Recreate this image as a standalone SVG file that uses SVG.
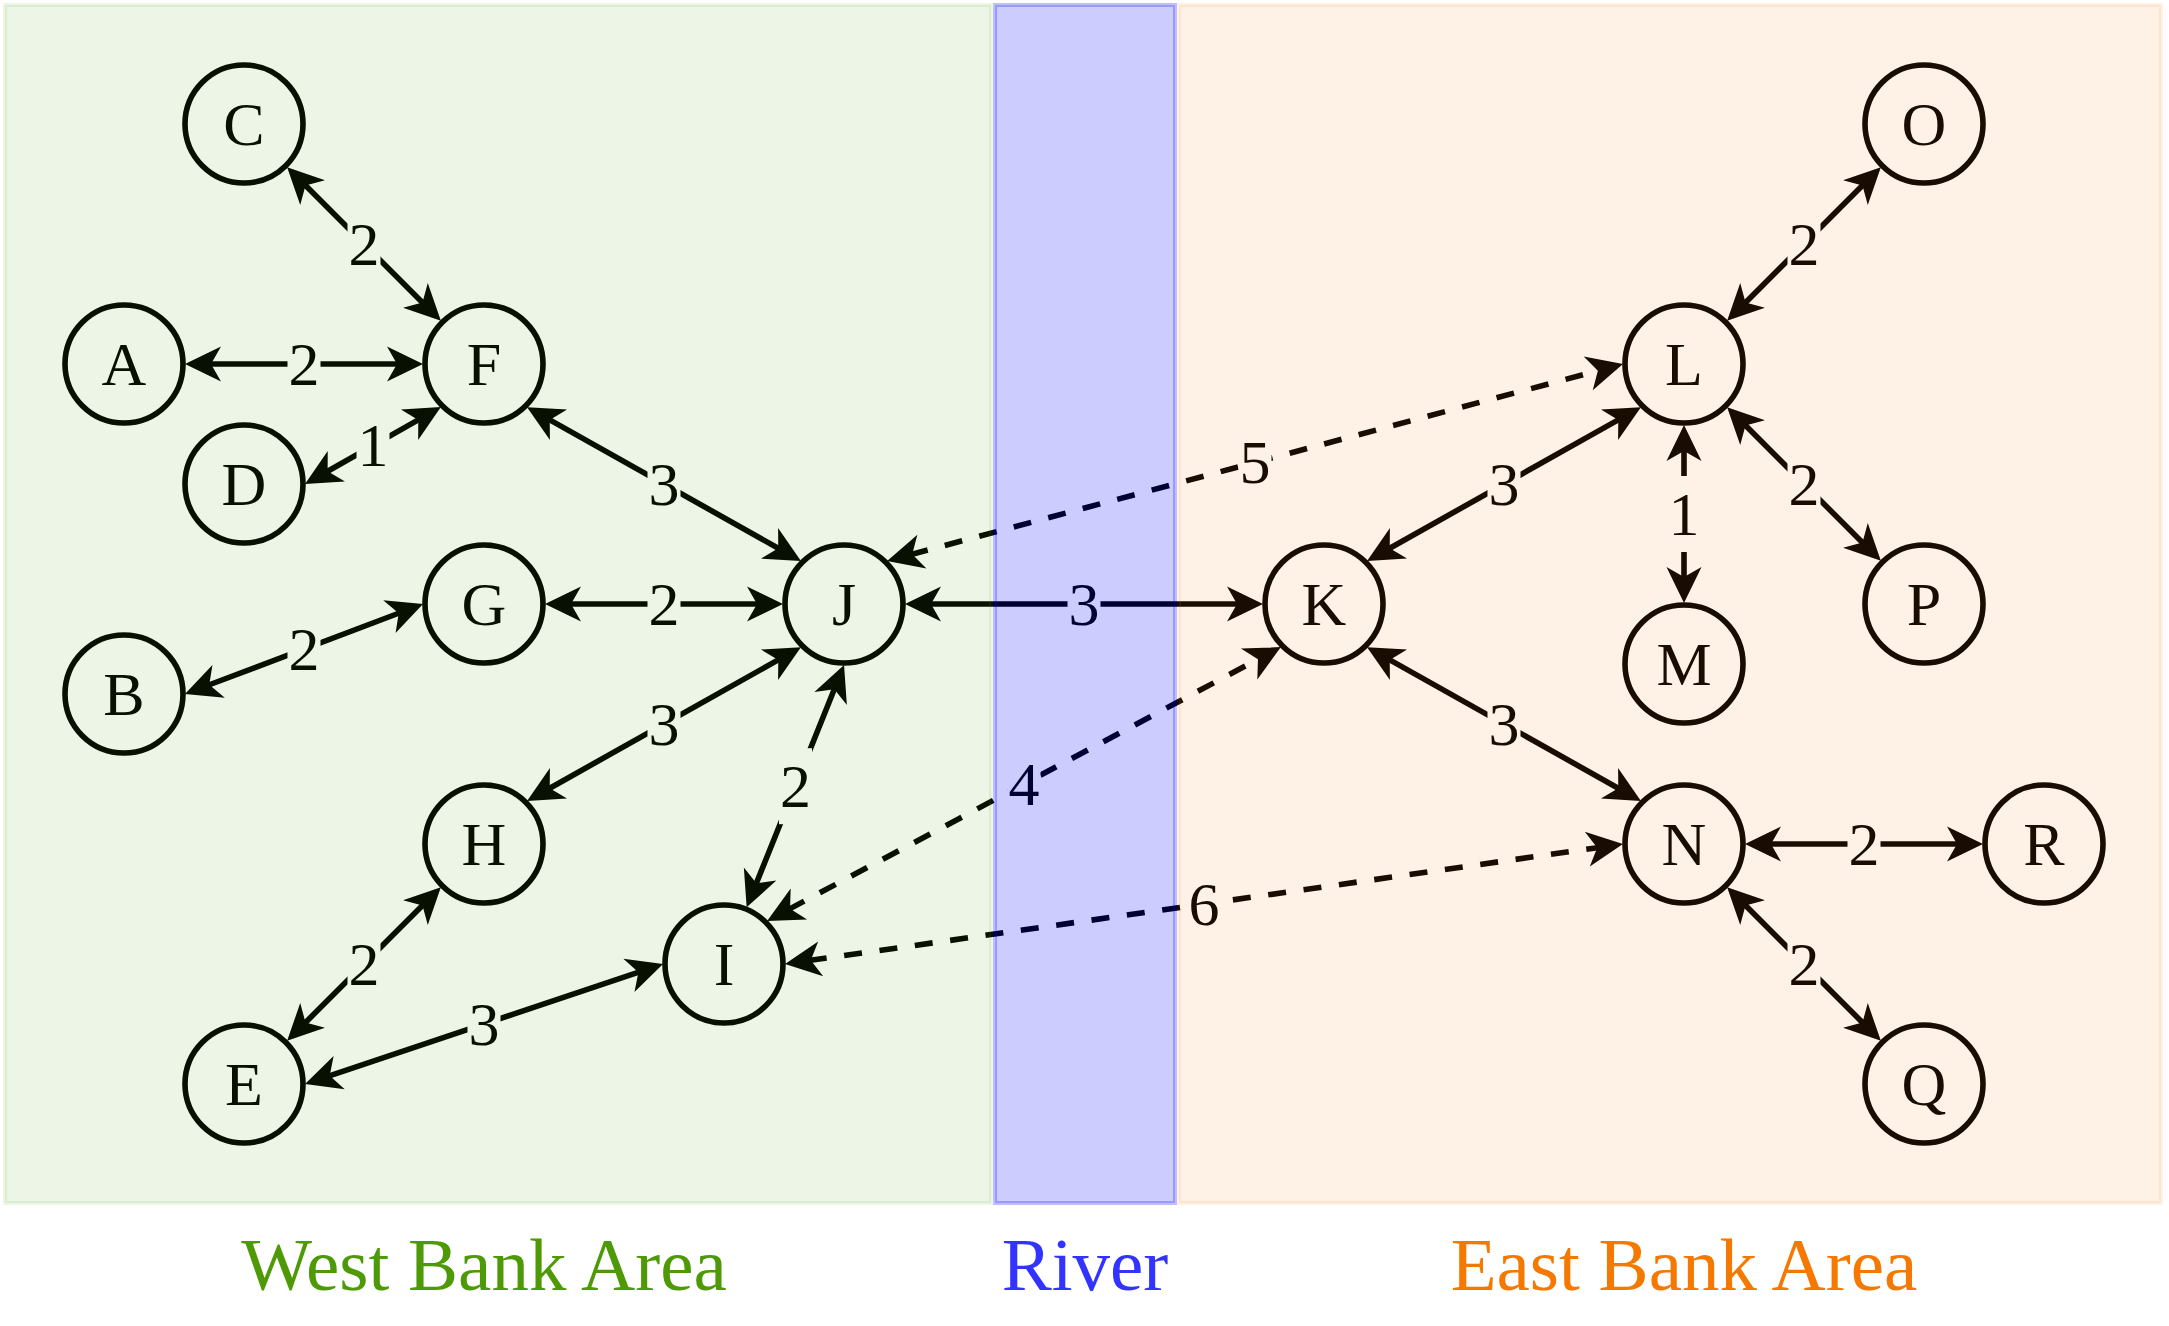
<svg xmlns="http://www.w3.org/2000/svg" width="2169" height="1326" viewBox="0 0 2169 1326">
<defs>
<style>
.edge{stroke:#000;stroke-width:5.6;fill:none;marker-start:url(#arr);marker-end:url(#arr)}
.dash{stroke-dasharray:18 17.7}
.lbg{fill:#fff;stroke:none}
.lbl{font-family:"Liberation Serif","Times New Roman",serif;font-size:62px;fill:#000;text-anchor:middle}
.node circle{fill:none;stroke:#000;stroke-width:5.6}
.node text{font-family:"Liberation Serif","Times New Roman",serif;font-size:62px;fill:#000;text-anchor:middle}
.area{font-family:"Liberation Serif","Times New Roman",serif;font-size:75px;text-anchor:middle}
</style>
<marker id="arr" markerUnits="userSpaceOnUse" orient="auto-start-reverse" refX="0" refY="0" markerWidth="80" markerHeight="80" viewBox="-40 -40 80 80" overflow="visible">
<path d="M24,0 L-12,-17.5 L-2,0 L-12,17.5 Z" fill="#000"/>
</marker>
</defs>
<rect x="0" y="0" width="2169" height="1326" fill="#fff"/>
<g id="connectors">
<line class="edge" x1="304.1" y1="184.1" x2="423.9" y2="303.9"/>
<line class="edge" x1="209" y1="364" x2="399" y2="364"/>
<line class="edge" x1="325.9" y1="472.2" x2="420" y2="418.9"/>
<line class="edge" x1="548" y1="418.9" x2="780" y2="549.2"/>
<line class="edge" x1="569" y1="604" x2="759" y2="604"/>
<line class="edge" x1="207.4" y1="685.5" x2="400.6" y2="612.5"/>
<line class="edge" x1="548" y1="789.2" x2="780" y2="658.9"/>
<line class="edge" x1="755.6" y1="885.1" x2="835.1" y2="687.3"/>
<line class="edge" x1="304.1" y1="1023.9" x2="423.9" y2="904.1"/>
<line class="edge" x1="327.8" y1="1076.4" x2="640.3" y2="971.6"/>
<line class="edge" x1="929" y1="604" x2="1239" y2="604"/>
<line class="edge dash" x1="910.3" y1="554.7" x2="1599.8" y2="370.2"/>
<line class="edge dash" x1="788.3" y1="909.6" x2="1259.7" y2="658.4"/>
<line class="edge dash" x1="808.8" y1="960.6" x2="1599.2" y2="847.4"/>
<line class="edge" x1="1388" y1="549.2" x2="1620" y2="418.9"/>
<line class="edge" x1="1744.1" y1="303.9" x2="1863.9" y2="184.1"/>
<line class="edge" x1="1684" y1="449" x2="1684" y2="579"/>
<line class="edge" x1="1744.1" y1="424.1" x2="1863.9" y2="543.9"/>
<line class="edge" x1="1388" y1="658.9" x2="1620" y2="789.2"/>
<line class="edge" x1="1769" y1="844" x2="1959" y2="844"/>
<line class="edge" x1="1744.1" y1="904.1" x2="1863.9" y2="1023.9"/>
<g id="edge-labels">
<rect class="lbg" x="347.5" y="206" width="33" height="76"/><text class="lbl" x="364" y="264.5">2</text>
<rect class="lbg" x="287.5" y="326" width="33" height="76"/><text class="lbl" x="304" y="384.5">2</text>
<rect class="lbg" x="356.5" y="407.5" width="33" height="76"/><text class="lbl" x="373" y="466">1</text>
<rect class="lbg" x="647.5" y="446" width="33" height="76"/><text class="lbl" x="664" y="504.5">3</text>
<rect class="lbg" x="647.5" y="566" width="33" height="76"/><text class="lbl" x="664" y="624.5">2</text>
<rect class="lbg" x="287.5" y="611" width="33" height="76"/><text class="lbl" x="304" y="669.5">2</text>
<rect class="lbg" x="647.5" y="686" width="33" height="76"/><text class="lbl" x="664" y="744.5">3</text>
<rect class="lbg" x="779" y="748.2" width="33" height="76"/><text class="lbl" x="795.5" y="806.7">2</text>
<rect class="lbg" x="347.5" y="926" width="33" height="76"/><text class="lbl" x="364" y="984.5">2</text>
<rect class="lbg" x="467.5" y="986" width="33" height="76"/><text class="lbl" x="484" y="1044.5">3</text>
<rect class="lbg" x="1067.5" y="566" width="33" height="76"/><text class="lbl" x="1084" y="624.5">3</text>
<rect class="lbg" x="1238.5" y="424.4" width="33" height="76"/><text class="lbl" x="1255" y="482.9">5</text>
<rect class="lbg" x="1007.5" y="746" width="33" height="76"/><text class="lbl" x="1024" y="804.5">4</text>
<rect class="lbg" x="1187.5" y="866" width="33" height="76"/><text class="lbl" x="1204" y="924.5">6</text>
<rect class="lbg" x="1487.5" y="446" width="33" height="76"/><text class="lbl" x="1504" y="504.5">3</text>
<rect class="lbg" x="1787.5" y="206" width="33" height="76"/><text class="lbl" x="1804" y="264.5">2</text>
<rect class="lbg" x="1667.5" y="476" width="33" height="76"/><text class="lbl" x="1684" y="534.5">1</text>
<rect class="lbg" x="1787.5" y="446" width="33" height="76"/><text class="lbl" x="1804" y="504.5">2</text>
<rect class="lbg" x="1487.5" y="686" width="33" height="76"/><text class="lbl" x="1504" y="744.5">3</text>
<rect class="lbg" x="1847.5" y="806" width="33" height="76"/><text class="lbl" x="1864" y="864.5">2</text>
<rect class="lbg" x="1787.5" y="926" width="33" height="76"/><text class="lbl" x="1804" y="984.5">2</text>
</g>
</g>
<g id="node-A" class="node"><circle cx="124" cy="364" r="59"/><text x="124" y="384.5">A</text></g>
<g id="node-B" class="node"><circle cx="124" cy="694" r="59"/><text x="124" y="714.5">B</text></g>
<g id="node-C" class="node"><circle cx="244" cy="124" r="59"/><text x="244" y="144.5">C</text></g>
<g id="node-D" class="node"><circle cx="244" cy="484" r="59"/><text x="244" y="504.5">D</text></g>
<g id="node-E" class="node"><circle cx="244" cy="1084" r="59"/><text x="244" y="1104.5">E</text></g>
<g id="node-F" class="node"><circle cx="484" cy="364" r="59"/><text x="484" y="384.5">F</text></g>
<g id="node-G" class="node"><circle cx="484" cy="604" r="59"/><text x="484" y="624.5">G</text></g>
<g id="node-H" class="node"><circle cx="484" cy="844" r="59"/><text x="484" y="864.5">H</text></g>
<g id="node-I" class="node"><circle cx="724" cy="964" r="59"/><text x="724" y="984.5">I</text></g>
<g id="node-J" class="node"><circle cx="844" cy="604" r="59"/><text x="844" y="624.5">J</text></g>
<g id="node-K" class="node"><circle cx="1324" cy="604" r="59"/><text x="1324" y="624.5">K</text></g>
<g id="node-L" class="node"><circle cx="1684" cy="364" r="59"/><text x="1684" y="384.5">L</text></g>
<g id="node-M" class="node"><circle cx="1684" cy="664" r="59"/><text x="1684" y="684.5">M</text></g>
<g id="node-N" class="node"><circle cx="1684" cy="844" r="59"/><text x="1684" y="864.5">N</text></g>
<g id="node-O" class="node"><circle cx="1924" cy="124" r="59"/><text x="1924" y="144.5">O</text></g>
<g id="node-P" class="node"><circle cx="1924" cy="604" r="59"/><text x="1924" y="624.5">P</text></g>
<g id="node-Q" class="node"><circle cx="1924" cy="1084" r="59"/><text x="1924" y="1104.5">Q</text></g>
<g id="node-R" class="node"><circle cx="2044" cy="844" r="59"/><text x="2044" y="864.5">R</text></g>
<g id="areas">
<rect x="5" y="5" width="986" height="1198" fill="#4e9a06" fill-opacity="0.1" stroke="#4e9a06" stroke-opacity="0.1" stroke-width="4"/>
<rect x="995" y="5" width="180" height="1198" fill="#0000ff" fill-opacity="0.2" stroke="#0000ff" stroke-opacity="0.25" stroke-width="4"/>
<rect x="1179" y="5" width="982" height="1198" fill="#f57900" fill-opacity="0.1" stroke="#f57900" stroke-opacity="0.1" stroke-width="4"/>
<text class="area" x="484" y="1290" fill="#4e9a06">West Bank Area</text>
<text class="area" x="1085" y="1290" fill="#3333ff">River</text>
<text class="area" x="1684" y="1290" fill="#f57900">East Bank Area</text>
</g>
</svg>
